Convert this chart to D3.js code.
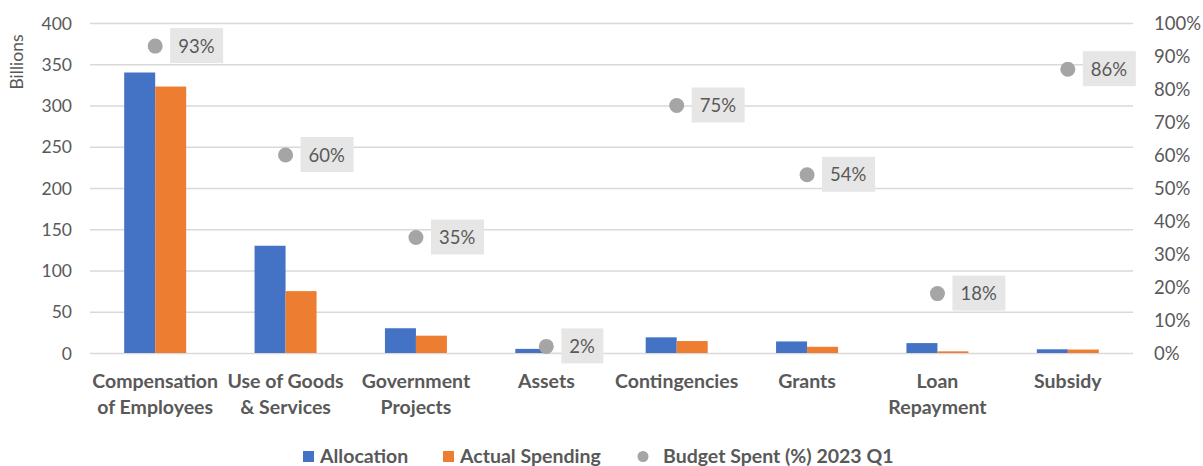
<!DOCTYPE html>
<html>
<head>
<meta charset="utf-8">
<script src="https://cdn.jsdelivr.net/npm/d3@7"></script>
<style>
  html, body { margin: 0; padding: 0; background: #fff; }
  svg { display: block; }
  text { font-family: Lato, "Open Sans", sans-serif; fill: #595959; }
</style>
</head>
<body>
<svg id="chart" width="1203" height="466"></svg>
<script>
// Budget categories (label lines) and values in billions
const categories = [
  ["Compensation", "of Employees"],
  ["Use of Goods", "& Services"],
  ["Government", "Projects"],
  ["Assets"],
  ["Contingencies"],
  ["Grants"],
  ["Loan", "Repayment"],
  ["Subsidy"]
];
const allocation     = [340, 130, 30, 5, 19, 14, 12, 4.5];
const actualSpending = [323, 75, 21, 0.1, 14.5, 7.5, 2, 4.2];
const budgetSpentPct = [93, 60, 35, 2, 75, 54, 18, 86];

const leftTicks  = [0, 50, 100, 150, 200, 250, 300, 350, 400];
const rightTicks = [0, 10, 20, 30, 40, 50, 60, 70, 80, 90, 100];

const colors = { alloc: "#4472C4", actual: "#ED7D31", pct: "#A5A5A5", grid: "#D9D9D9", labelBg: "#E7E6E6" };

const svg = d3.select("#chart");
const margin = { left: 90, right: 70, top: 23, bottom: 113 };
const W = 1203, H = 466;
const plotW = W - margin.left - margin.right;
const y0 = 353;

const keys = categories.map((c, i) => i);
const x = d3.scaleBand().domain(keys).range([margin.left, margin.left + plotW]).paddingInner(0).paddingOuter(0);
const yL = d3.scaleLinear().domain([0, 400]).range([y0, margin.top]);
const yR = d3.scaleLinear().domain([0, 100]).range([y0, margin.top]);

// gridlines
svg.append("g").selectAll("line").data(leftTicks).join("line")
  .attr("x1", margin.left).attr("x2", margin.left + plotW)
  .attr("y1", d => yL(d) + 0.5).attr("y2", d => yL(d) + 0.5)
  .attr("stroke", colors.grid).attr("stroke-width", 1.3);

// left axis
const leftAxis = svg.append("g").attr("transform", `translate(${margin.left - 18},0)`)
  .call(d3.axisLeft(yL).tickValues(leftTicks).tickSize(0).tickPadding(0));
leftAxis.select(".domain").remove();
leftAxis.selectAll("text").attr("font-size", 17.5).attr("fill", "#595959").attr("dy", "0.35em")
  .style("font-family", "Lato, sans-serif");

// right axis
const rightAxis = svg.append("g").attr("transform", `translate(${margin.left + plotW + 21},0)`)
  .call(d3.axisRight(yR).tickValues(rightTicks).tickFormat(d => d + "%").tickSize(0).tickPadding(0));
rightAxis.select(".domain").remove();
rightAxis.selectAll("text").attr("font-size", 18.5).attr("fill", "#595959").attr("dy", "0.35em")
  .style("font-family", "Lato, sans-serif");

// axis title
svg.append("text").attr("transform", `translate(23,62) rotate(-90)`)
  .attr("text-anchor", "middle").attr("font-size", 17.5).text("Billions");

// bars
const barW = 31;
const bars = svg.append("g");
bars.selectAll("rect.alloc").data(allocation).join("rect").attr("class", "alloc")
  .attr("x", (d, i) => x(i) + x.bandwidth() / 2 - barW)
  .attr("width", barW)
  .attr("y", d => yL(d)).attr("height", d => y0 - yL(d))
  .attr("fill", colors.alloc);
bars.selectAll("rect.actual").data(actualSpending).join("rect").attr("class", "actual")
  .attr("x", (d, i) => x(i) + x.bandwidth() / 2)
  .attr("width", barW)
  .attr("y", d => yL(d)).attr("height", d => y0 - yL(d))
  .attr("fill", colors.actual);

// percent markers with boxed labels
const pts = svg.append("g");
budgetSpentPct.forEach((v, i) => {
  const cx = x(i) + x.bandwidth() / 2;
  const cy = yR(v);
  const g = pts.append("g");
  g.append("rect").attr("x", cx + 15).attr("y", cy - 18).attr("width", v < 10 ? 42 : 53).attr("height", 35)
    .attr("fill", colors.labelBg);
  g.append("circle").attr("cx", cx).attr("cy", cy).attr("r", 7.5).attr("fill", colors.pct);
  g.append("text").attr("x", cx + 23).attr("y", cy).attr("dy", "0.36em")
    .attr("font-size", 18.5).attr("fill", "#404040").text(v + "%");
});

// category labels
const cat = svg.append("g");
categories.forEach((lines, i) => {
  const t = cat.append("text").attr("x", x(i) + x.bandwidth() / 2).attr("y", 388)
    .attr("text-anchor", "middle").attr("font-size", 19.5).attr("font-weight", "bold");
  lines.forEach((ln, j) => t.append("tspan").attr("x", x(i) + x.bandwidth() / 2).attr("dy", j ? 26 : 0).text(ln));
});

// legend
const legend = svg.append("g").attr("transform", "translate(0,456)");
const items = [
  { label: "Allocation", type: "rect", color: colors.alloc, x: 303, tx: 320 },
  { label: "Actual Spending", type: "rect", color: colors.actual, x: 443, tx: 460 },
  { label: "Budget Spent (%) 2023 Q1", type: "circle", color: colors.pct, x: 637, tx: 663 }
];
items.forEach(it => {
  if (it.type === "rect") {
    legend.append("rect").attr("x", it.x).attr("y", -5).attr("width", 11).attr("height", 11).attr("fill", it.color);
  } else {
    legend.append("circle").attr("cx", it.x + 6).attr("cy", 0.5).attr("r", 5.5).attr("fill", it.color);
  }
  legend.append("text").attr("x", it.tx).attr("y", 0).attr("dy", "0.36em")
    .attr("font-size", 19.5).attr("font-weight", "bold").text(it.label);
});
</script>
</body>
</html>
